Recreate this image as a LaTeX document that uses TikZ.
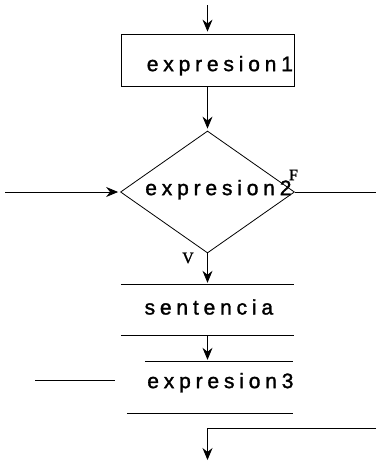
\documentclass[tikz,border=0pt]{standalone}
\usepackage{fontspec}
\setmainfont{Liberation Serif}[FakeBold=1.5]
\newfontfamily\boxfont[LetterSpace=23, FakeBold=1.5]{Liberation Sans}
\usetikzlibrary{arrows.meta,shapes.geometric}

\begin{document}
\begin{tikzpicture}[x=1pt, y=-1pt,
  line/.style={line width=0.8pt},
  flow/.style={line, -{Stealth[length=12pt, width=10pt, inset=4pt]}, shorten >=2pt},
  stepbox/.style={minimum width=173pt, minimum height=52pt, inner sep=0pt},
  cond/.style={diamond, draw, line, minimum width=174pt, minimum height=122pt, inner sep=0pt},
  word/.style={font=\fontsize{21}{25}\selectfont\boxfont},
  branch/.style={font=\fontsize{16}{19}\selectfont}]
  % Define the axis of the chart
  \def\midx{207.5}

  \useasboundingbox (0,0) rectangle (376,463);

  % Initialisation box and incoming arrow
  \coordinate (start) at (\midx,5);
  \node[stepbox, draw, line, label={[word, xshift=12.4pt, yshift=-5.7pt]center:expresion1}] (init) at (\midx,60) {};
  \draw[flow] (start) -- (init);

  % Condition with its two exits
  \node[cond, label={[word, xshift=10.9pt, yshift=2.3pt]center:expresion2}] (test) at (\midx,192) {};
  \draw[flow] (init) -- (test);
  \node[branch] (false) at (293.5,175) {F};
  \node[branch] (true) at (188,258) {V};
  \coordinate (loop) at (5,192);
  \draw[flow] (loop) -- (test.west);
  \coordinate (exit) at (376,192);
  \draw[line] (test.east) -- (exit);

  % Body of the loop (only top and bottom rules)
  \node[stepbox, minimum height=50pt, label={[word, xshift=1.4pt, yshift=3pt]center:sentencia}] (body) at (\midx,310) {};
  \draw[line] (body.north west) -- (body.north east);
  \draw[line] (body.south west) -- (body.south east);
  \draw[flow] (test) -- (body);

  % Increment box
  \node[stepbox, minimum width=166pt, minimum height=51pt, label={[word, xshift=10.4pt, yshift=4.8pt]center:expresion3}] (incr) at (210,387.5) {};
  \draw[line] ([xshift=18pt]incr.north west) -- (incr.north east);
  \draw[line] (incr.south west) -- (incr.south east);
  \draw[flow] (body) -- (body.south |- incr.north);
  \coordinate (back) at (35,380);
  \draw[line] ([xshift=-12pt]incr.west |- back) -- (back);

  % Way out of the loop
  \coordinate (turn) at (376,428);
  \coordinate (join) at (\midx,428);
  \coordinate (done) at (\midx,462);
  \draw[line] (turn) -- (join);
  \draw[flow] (join) -- (done);

\end{tikzpicture}
\end{document}
